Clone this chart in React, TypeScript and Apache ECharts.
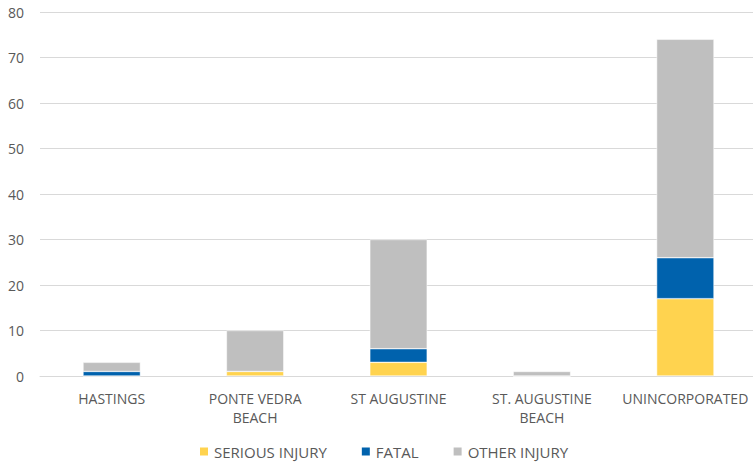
import React, { useEffect, useRef } from "react";
import * as echarts from "echarts";

const categories = ["HASTINGS", "PONTE VEDRA\nBEACH", "ST AUGUSTINE", "ST. AUGUSTINE\nBEACH", "UNINCORPORATED"];
const seriousInjury = [0, 1, 3, 0, 17];
const fatal = [1, 0, 3, 0, 9];
const otherInjury = [2, 9, 24, 1, 48];

export default function App() {
  const ref = useRef<HTMLDivElement>(null);
  useEffect(() => {
    document.body.style.margin = "0";
    const chart = echarts.init(ref.current!, null, { renderer: "svg" });
    const font = "'Open Sans', 'Noto Sans', sans-serif";
    const mk = (name: string, data: number[], color: string) => ({
      name,
      type: "bar",
      stack: "total",
      data,
      barWidth: "40%",
      itemStyle: { color, borderColor: "#ffffff", borderWidth: 0.5 },
    });
    chart.setOption({
      animation: false,
      grid: { left: 40, right: 3, top: 12, bottom: 90 },
      xAxis: {
        type: "category",
        data: categories,
        axisLine: { lineStyle: { color: "#D9D9D9", width: 1 } },
        axisTick: { show: false },
        axisLabel: { color: "#595959", fontSize: 14, fontFamily: font, margin: 13, lineHeight: 19, interval: 0 },
      },
      yAxis: {
        type: "value",
        min: 0,
        max: 80,
        interval: 10,
        axisLine: { show: false },
        axisTick: { show: false },
        splitLine: { lineStyle: { color: "#D9D9D9" } },
        axisLabel: { color: "#595959", fontSize: 14, fontFamily: font, margin: 16 },
      },
      legend: {
        bottom: 2,
        left: 193,
        itemWidth: 10,
        itemHeight: 10,
        itemGap: 33,
        icon: "rect",
        textStyle: { color: "#595959", fontSize: 15, fontFamily: font },
        data: ["SERIOUS INJURY", "FATAL", "OTHER INJURY"],
      },
      series: [
        mk("SERIOUS INJURY", seriousInjury, "#FFD34F"),
        mk("FATAL", fatal, "#0062AD"),
        mk("OTHER INJURY", otherInjury, "#BFBFBF"),
      ],
    });
    return () => chart.dispose();
  }, []);
  return (
    <div style={{ width: 753, height: 466, overflow: "hidden" }}>
      <div ref={ref} style={{ width: 760, height: 466 }} />
    </div>
  );
}
